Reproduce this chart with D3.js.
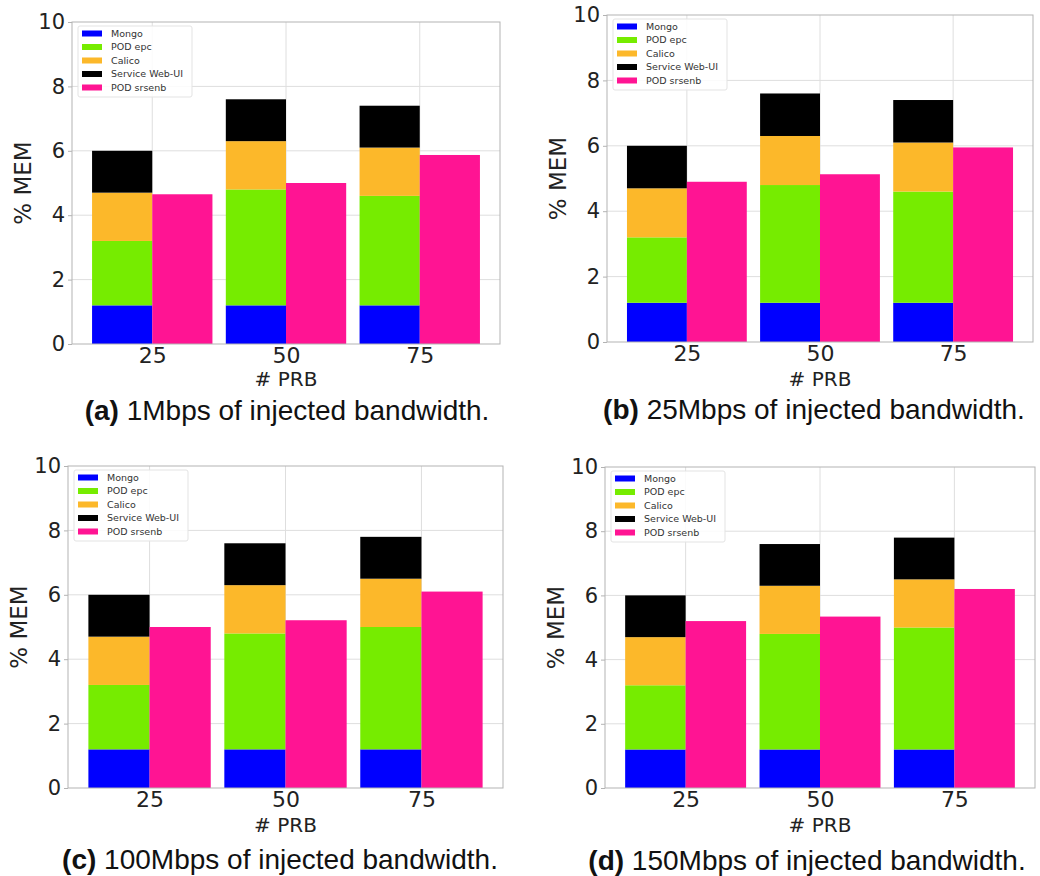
<!DOCTYPE html>
<html>
<head>
<meta charset="utf-8">
<script src="https://cdn.jsdelivr.net/npm/d3@7"></script>
<style>
  html, body { margin: 0; padding: 0; background: #fff; }
  svg { display: block; }
</style>
</head>
<body>
<svg id="chart" width="1040" height="876"></svg>
<script>
// x categories and series
const prb = ['25', '50', '75'];
const seriesNames = ['Mongo', 'POD epc', 'Calico', 'Service Web-UI', 'POD srsenb'];
const seriesColors = ['#0000ff', '#76ec00', '#fcb82a', '#000000', '#ff1493'];
const yTicks = [0, 2, 4, 6, 8, 10];

// one row per panel (a, b, c, d), one value per PRB
const mongo   = [[1.2, 1.2, 1.2], [1.2, 1.2, 1.2], [1.2, 1.2, 1.2], [1.2, 1.2, 1.2]];
const podEpc  = [[2.0, 3.6, 3.4], [2.0, 3.6, 3.4], [2.0, 3.6, 3.8], [2.0, 3.6, 3.8]];
const calico  = [[1.5, 1.5, 1.5], [1.5, 1.5, 1.5], [1.5, 1.5, 1.5], [1.5, 1.5, 1.5]];
const webUi   = [[1.3, 1.3, 1.3], [1.3, 1.3, 1.3], [1.3, 1.3, 1.3], [1.3, 1.3, 1.3]];
const srsenb  = [[4.65, 5.0, 5.87], [4.9, 5.13, 5.95], [5.0, 5.21, 6.1], [5.2, 5.34, 6.2]];

const captionTags = ['(a)', '(b)', '(c)', '(d)'];
const captionTexts = [
  ' 1Mbps of injected bandwidth.',
  ' 25Mbps of injected bandwidth.',
  ' 100Mbps of injected bandwidth.',
  ' 150Mbps of injected bandwidth.'
];

// panel boxes (pixels)
const panels = [
  { left: 72,  right: 500,  top: 22,  bottom: 344, prbDy: 35, capX: 287, capDy: 66 },
  { left: 607, right: 1033, top: 15,  bottom: 342, prbDy: 37, capX: 814, capDy: 67 },
  { left: 68,  right: 503,  top: 466, bottom: 788, prbDy: 37, capX: 280, capDy: 71 },
  { left: 605, right: 1035, top: 467, bottom: 788, prbDy: 37, capX: 807, capDy: 72 }
];

const svg = d3.select('#chart');
const stackKeys = [mongo, podEpc, calico, webUi];

panels.forEach((p, pi) => {
  const x = d3.scaleLinear().domain([-0.6, 2.6]).range([p.left, p.right]);
  const y = d3.scaleLinear().domain([0, 10]).range([p.bottom, p.top]);
  const g = svg.append('g');

  // grid
  g.append('g').selectAll('line.h')
    .data(yTicks.filter(t => t > 0 && t < 10))
    .enter().append('line')
    .attr('x1', p.left).attr('x2', p.right)
    .attr('y1', d => y(d)).attr('y2', d => y(d))
    .attr('stroke', '#dedede').attr('stroke-width', 1);
  g.append('g').selectAll('line.v')
    .data(prb)
    .enter().append('line')
    .attr('x1', (d, i) => x(i)).attr('x2', (d, i) => x(i))
    .attr('y1', p.top).attr('y2', p.bottom)
    .attr('stroke', '#dedede').attr('stroke-width', 1);

  // stacked bars
  const rows = prb.map((label, i) => {
    const r = { i: i };
    stackKeys.forEach((arr, k) => { r['s' + k] = arr[pi][i]; });
    return r;
  });
  const stacked = d3.stack().keys(['s0', 's1', 's2', 's3'])(rows);
  stacked.forEach((layer, k) => {
    g.append('g').selectAll('rect')
      .data(layer)
      .enter().append('rect')
      .attr('x', d => x(d.data.i - 0.45))
      .attr('width', d => x(d.data.i) - x(d.data.i - 0.45))
      .attr('y', d => y(d[1]))
      .attr('height', d => y(d[0]) - y(d[1]))
      .attr('fill', seriesColors[k]);
  });

  // srsenb bars
  g.append('g').selectAll('rect')
    .data(srsenb[pi])
    .enter().append('rect')
    .attr('x', (d, i) => x(i))
    .attr('width', (d, i) => x(i + 0.45) - x(i))
    .attr('y', d => y(d))
    .attr('height', d => y(0) - y(d))
    .attr('fill', seriesColors[4]);

  // frame
  g.append('rect')
    .attr('x', p.left).attr('y', p.top)
    .attr('width', p.right - p.left).attr('height', p.bottom - p.top)
    .attr('fill', 'none').attr('stroke', '#b3b3b3').attr('stroke-width', 1);

  // y axis
  const yAxis = g.append('g')
    .attr('transform', `translate(${p.left},0)`)
    .call(d3.axisLeft(y).tickValues(yTicks).tickSize(4).tickPadding(3));
  yAxis.select('.domain').remove();
  yAxis.selectAll('line').attr('stroke', '#b3b3b3');
  yAxis.selectAll('text')
    .attr('font-family', 'DejaVu Sans').attr('font-size', 21).attr('fill', '#222');

  // x axis
  const xAxis = g.append('g')
    .attr('transform', `translate(0,${p.bottom})`)
    .call(d3.axisBottom(x).tickValues([0, 1, 2]).tickFormat(i => prb[i]).tickSize(0).tickPadding(3));
  xAxis.select('.domain').remove();
  xAxis.selectAll('text')
    .attr('font-family', 'DejaVu Sans').attr('font-size', 22).attr('fill', '#222');

  const cx = (p.left + p.right) / 2;
  g.append('text')
    .attr('x', cx).attr('y', p.bottom + p.prbDy)
    .attr('dy', '0.36em')
    .attr('text-anchor', 'middle')
    .attr('font-family', 'DejaVu Sans').attr('font-size', 20).attr('fill', '#222')
    .text('# PRB');

  g.append('text')
    .attr('transform', `translate(${p.left - 49},${(p.top + p.bottom) / 2}) rotate(-90)`)
    .attr('dy', '0.36em')
    .attr('text-anchor', 'middle')
    .attr('font-family', 'DejaVu Sans').attr('font-size', 23).attr('fill', '#222')
    .text('% MEM');

  // caption
  const cap = g.append('text')
    .attr('x', p.capX).attr('y', p.bottom + p.capDy)
    .attr('dy', '0.36em')
    .attr('text-anchor', 'middle')
    .attr('font-family', 'Liberation Sans, Arial, sans-serif').attr('font-size', 28).attr('fill', '#111');
  cap.append('tspan').attr('font-weight', 'bold').text(captionTags[pi]);
  cap.append('tspan').text(captionTexts[pi]);

  // legend
  const lx = p.left + 6, ly = p.top + 4;
  const lg = g.append('g').attr('transform', `translate(${lx},${ly})`);
  lg.append('rect')
    .attr('width', 114).attr('height', 71).attr('rx', 2)
    .attr('fill', '#fff').attr('fill-opacity', 0.85)
    .attr('stroke', '#e3e3e3');
  const item = lg.selectAll('g.item')
    .data(seriesNames)
    .enter().append('g')
    .attr('transform', (d, i) => `translate(0,${7.5 + i * 13.5})`);
  item.append('rect')
    .attr('x', 4).attr('y', -3).attr('width', 20).attr('height', 6)
    .attr('fill', (d, i) => seriesColors[i]);
  item.append('text')
    .attr('x', 33).attr('dy', '0.35em')
    .attr('font-family', 'DejaVu Sans').attr('font-size', 9.5).attr('fill', '#333')
    .text(d => d);
});
</script>
</body>
</html>
